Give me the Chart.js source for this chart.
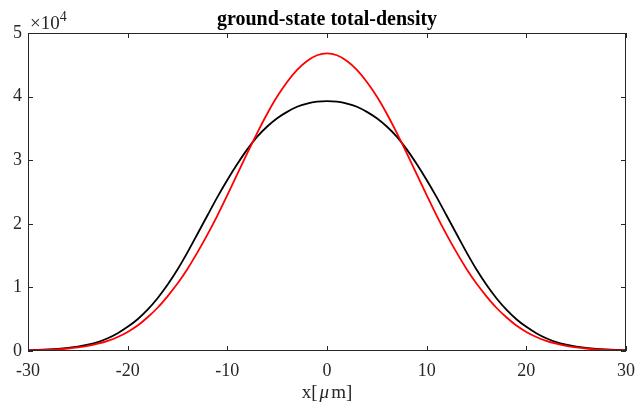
<!DOCTYPE html>
<html>
<head>
<meta charset="utf-8">
<script src="https://cdn.jsdelivr.net/npm/chart.js@4.4.0/dist/chart.umd.min.js"></script>
<style>
  html, body { margin: 0; padding: 0; background: #fff; }
  #wrap { width: 638px; height: 410px; }
</style>
</head>
<body>
<div id="wrap"><canvas id="densityChart" width="638" height="410"></canvas></div>
<script>
// positions along x, in micrometres
const xPositions = [-30, -29, -28, -27, -26, -25, -24, -23, -22, -21, -20, -19, -18, -17, -16, -15, -14, -13, -12, -11, -10,
    -9, -8, -7, -6, -5, -4, -3, -2, -1, 0, 1, 2, 3, 4, 5, 6, 7, 8, 9, 10,
    11, 12, 13, 14, 15, 16, 17, 18, 19, 20, 21, 22, 23, 24, 25, 26, 27, 28, 29, 30];

// density values in units of 1e4
const blackDensity = [0.013, 0.018, 0.025, 0.035, 0.05, 0.07, 0.1, 0.14, 0.2, 0.28, 0.38, 0.5, 0.65, 0.83, 1.04, 1.28, 1.55, 1.84, 2.13, 2.42, 2.69,
    2.94, 3.17, 3.37, 3.53, 3.66, 3.76, 3.84, 3.89, 3.92, 3.93, 3.92, 3.89, 3.84, 3.76, 3.66, 3.53, 3.37, 3.17, 2.94, 2.69,
    2.42, 2.13, 1.84, 1.55, 1.28, 1.04, 0.83, 0.65, 0.5, 0.38, 0.28, 0.2, 0.14, 0.1, 0.07, 0.05, 0.035, 0.025, 0.018, 0.013];

const redDensity = [0.009, 0.013, 0.019, 0.027, 0.039, 0.056, 0.08, 0.115, 0.16, 0.22, 0.3, 0.4, 0.53, 0.68, 0.86, 1.06, 1.29, 1.55, 1.83, 2.13, 2.45,
    2.78, 3.11, 3.43, 3.73, 4.0, 4.23, 4.42, 4.56, 4.65, 4.68, 4.65, 4.56, 4.42, 4.23, 4.0, 3.73, 3.43, 3.11, 2.78, 2.45,
    2.13, 1.83, 1.55, 1.29, 1.06, 0.86, 0.68, 0.53, 0.4, 0.3, 0.22, 0.16, 0.115, 0.08, 0.056, 0.039, 0.027, 0.019, 0.013, 0.009];

const xTicks = [-30, -20, -10, 0, 10, 20, 30];
const yTicks = [0, 1, 2, 3, 4, 5];

const chartTitle = 'ground-state total-density';
const axisColor = '#262626';
const serif = '"Liberation Serif", "Times New Roman", serif';

function toPoints(ys) {
    return xPositions.map((x, i) => ({ x: x, y: ys[i] }));
}

// Draws the MATLAB style box, inward ticks, title, exponent and x label
const matlabFrame = {
    id: 'matlabFrame',
    afterDraw(chart) {
        const ctx = chart.ctx;
        const area = chart.chartArea;
        const xs = chart.scales.x;
        const ys = chart.scales.y;
        const tick = 5;

        ctx.save();
        ctx.strokeStyle = axisColor;
        ctx.lineWidth = 1;
        ctx.strokeRect(area.left + 0.5, area.top + 0.5, area.right - area.left - 1, area.bottom - area.top - 1);

        ctx.beginPath();
        xTicks.forEach(v => {
            const px = Math.round(xs.getPixelForValue(v)) + 0.5;
            ctx.moveTo(px, area.bottom);
            ctx.lineTo(px, area.bottom - tick);
            ctx.moveTo(px, area.top);
            ctx.lineTo(px, area.top + tick);
        });
        yTicks.forEach(v => {
            const py = Math.round(ys.getPixelForValue(v)) + 0.5;
            ctx.moveTo(area.left, py);
            ctx.lineTo(area.left + tick, py);
            ctx.moveTo(area.right, py);
            ctx.lineTo(area.right - tick, py);
        });
        ctx.stroke();

        const midX = (area.left + area.right) / 2;

        // title
        ctx.fillStyle = '#000';
        ctx.font = 'bold 20px ' + serif;
        ctx.textAlign = 'center';
        ctx.textBaseline = 'alphabetic';
        ctx.fillText(chartTitle, midX, 25);

        // x10^4 exponent label
        ctx.fillStyle = axisColor;
        ctx.textAlign = 'left';
        ctx.font = '19px ' + serif;
        ctx.fillText('\u00d710', area.left + 2, 29);
        const w = ctx.measureText('\u00d710').width;
        ctx.font = '14px ' + serif;
        ctx.fillText('4', area.left + 2 + w, 21);

        // x axis label: x[ mu m ] with italic mu
        const parts = [['x[', '19px '], ['\u03bc', 'italic 19px '], ['m]', '19px ']];
        const gap = 2;
        let total = gap * 2;
        parts.forEach(p => { ctx.font = p[1] + serif; total += ctx.measureText(p[0]).width; });
        let cx = midX - total / 2;
        parts.forEach((p, i) => {
            ctx.font = p[1] + serif;
            ctx.fillText(p[0], cx, 398);
            cx += ctx.measureText(p[0]).width + (i < 2 ? gap : 0);
        });
        ctx.restore();
    }
};

function createChart() {
    const ctx = document.getElementById('densityChart').getContext('2d');

    new Chart(ctx, {
        type: 'line',
        data: {
            datasets: [
                {
                    label: 'red',
                    data: toPoints(redDensity),
                    borderColor: '#ff0000',
                    borderWidth: 1.8,
                    pointRadius: 0,
                    fill: false,
                    cubicInterpolationMode: 'monotone'
                },
                {
                    label: 'black',
                    data: toPoints(blackDensity),
                    borderColor: '#000000',
                    borderWidth: 1.8,
                    pointRadius: 0,
                    fill: false,
                    cubicInterpolationMode: 'monotone'
                }
            ]
        },
        options: {
            responsive: false,
            animation: false,
            layout: {
                padding: { top: 33, left: 0, right: 12, bottom: 0 }
            },
            plugins: {
                legend: { display: false },
                tooltip: { enabled: false },
                title: { display: false }
            },
            scales: {
                x: {
                    type: 'linear',
                    min: -30,
                    max: 30,
                    border: { display: false },
                    grid: { display: false, drawTicks: false },
                    afterBuildTicks: scale => { scale.ticks = xTicks.map(v => ({ value: v })); },
                    afterFit: scale => {
                        scale.height = 59;
                        scale.paddingLeft = 0;
                        scale.paddingRight = 0;
                    },
                    ticks: {
                        padding: 9,
                        maxRotation: 0,
                        color: axisColor,
                        font: { family: serif, size: 18 },
                        callback: v => String(v)
                    }
                },
                y: {
                    min: 0,
                    max: 5,
                    border: { display: false },
                    grid: { display: false, drawTicks: false },
                    afterBuildTicks: scale => { scale.ticks = yTicks.map(v => ({ value: v })); },
                    afterFit: scale => {
                        scale.width = 28;
                        scale.paddingTop = 0;
                        scale.paddingBottom = 0;
                    },
                    ticks: {
                        padding: 6,
                        color: axisColor,
                        font: { family: serif, size: 18 },
                        callback: v => String(v)
                    }
                }
            }
        },
        plugins: [matlabFrame]
    });
}

createChart();
</script>
</body>
</html>
